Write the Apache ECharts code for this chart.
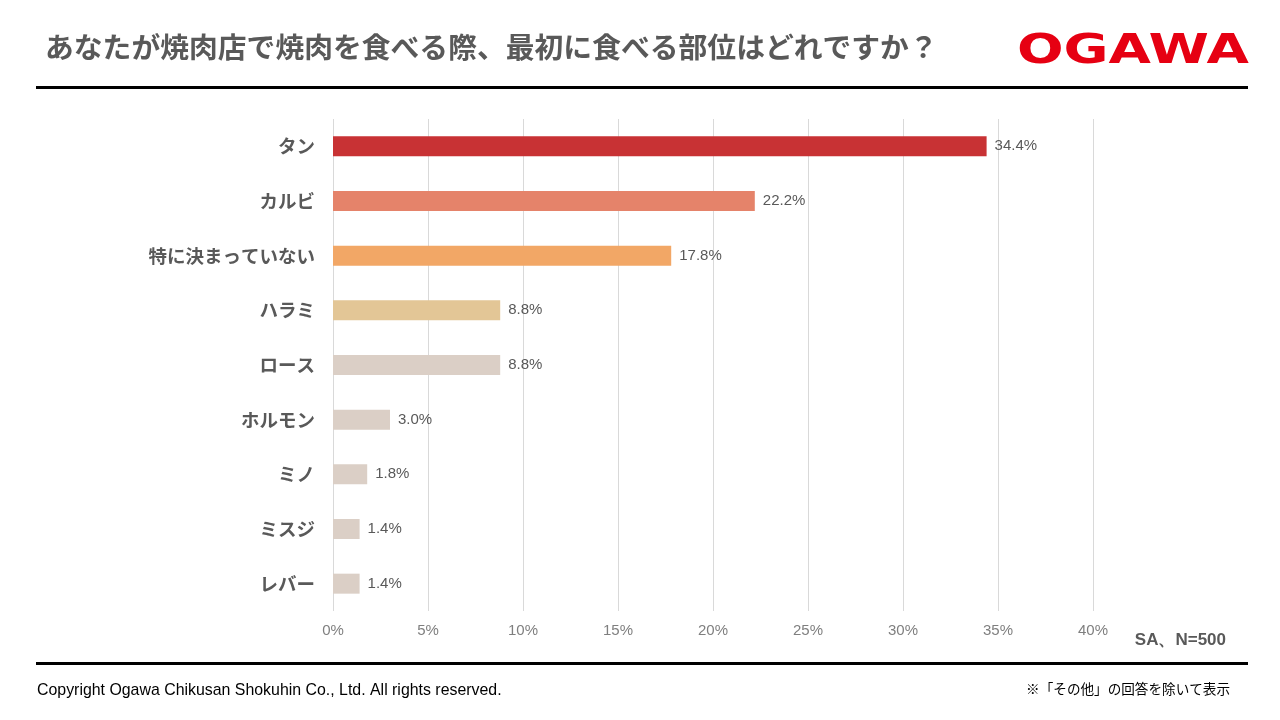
<!DOCTYPE html>
<html>
<head>
<meta charset="utf-8">
<script src="https://cdn.jsdelivr.net/npm/echarts@6/dist/echarts.min.js"></script>
<style>
  html, body { margin: 0; padding: 0; background: #fff; }
  #chart { width: 1280px; height: 720px; }
</style>
</head>
<body>
<div id="chart"></div>
<script>
const categories = ['タン', 'カルビ', '特に決まっていない', 'ハラミ', 'ロース', 'ホルモン', 'ミノ', 'ミスジ', 'レバー']
const values = [34.4, 22.2, 17.8, 8.8, 8.8, 3.0, 1.8, 1.4, 1.4]
const barColors = ['#C83234', '#E5836A', '#F2A766', '#E3C696', '#DBCFC6', '#DBCFC6', '#DBCFC6', '#DBCFC6', '#DBCFC6']

const jp = '"Noto Sans CJK JP", "Noto Sans", sans-serif'
const latin = '"Liberation Sans", Arial, sans-serif'

const myChart = echarts.init(document.getElementById('chart'))

const option = {
  backgroundColor: '#fff',
  animation: false,
  grid: {
    left: 333,
    right: 187,
    top: 119,
    bottom: 109
  },
  xAxis: {
    type: 'value',
    min: 0,
    max: 40,
    interval: 5,
    axisLine: { show: false },
    axisTick: { show: false },
    splitLine: { lineStyle: { color: '#D9D9D9', width: 1 } },
    axisLabel: {
      formatter: '{value}%',
      color: '#7F7F7F',
      fontFamily: latin,
      fontSize: 15,
      margin: 12
    }
  },
  yAxis: {
    type: 'category',
    inverse: true,
    data: categories,
    axisLine: { show: false },
    axisTick: { show: false },
    axisLabel: {
      color: '#595959',
      fontFamily: jp,
      fontWeight: 'bold',
      fontSize: 18.5,
      margin: 18
    }
  },
  series: [
    {
      type: 'bar',
      barWidth: 20,
      data: values.map((v, i) => ({ value: v, itemStyle: { color: barColors[i] } })),
      label: {
        show: true,
        position: 'right',
        distance: 8,
        formatter: p => p.value.toFixed(1) + '%',
        color: '#595959',
        fontFamily: latin,
        fontSize: 15
      }
    }
  ],
  graphic: [
    {
      type: 'text',
      left: 45,
      top: 33,
      style: {
        text: 'あなたが焼肉店で焼肉を食べる際、最初に食べる部位はどれですか？',
        fill: '#595959',
        font: 'bold 28.8px ' + jp
      }
    },
    {
      type: 'text',
      x: 1017,
      y: 33,
      scaleX: 1.37,
      style: {
        text: 'OGAWA',
        fill: '#E60012',
        font: 'bold 40px "DejaVu Sans", sans-serif'
      }
    },
    {
      type: 'rect',
      shape: { x: 36, y: 86, width: 1212, height: 3 },
      style: { fill: '#000' }
    },
    {
      type: 'text',
      right: 54,
      top: 632,
      style: {
        text: 'SA、N=500',
        fill: '#595959',
        font: 'bold 17px ' + latin
      }
    },
    {
      type: 'rect',
      shape: { x: 36, y: 662, width: 1212, height: 3 },
      style: { fill: '#000' }
    },
    {
      type: 'text',
      left: 37,
      top: 683,
      style: {
        text: 'Copyright Ogawa Chikusan Shokuhin Co., Ltd. All rights reserved.',
        fill: '#000',
        font: '15.9px ' + latin
      }
    },
    {
      type: 'text',
      right: 50,
      top: 682,
      style: {
        text: '※「その他」の回答を除いて表示',
        fill: '#000',
        font: '13.6px ' + jp
      }
    }
  ]
}

myChart.setOption(option)
</script>
</body>
</html>
